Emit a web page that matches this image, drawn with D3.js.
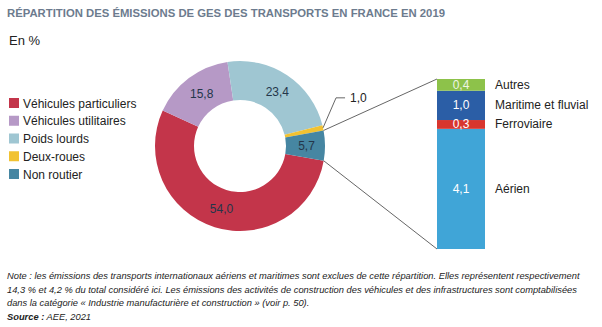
<!DOCTYPE html>
<html>
<head>
<meta charset="utf-8">
<script src="https://cdn.jsdelivr.net/npm/d3@7"></script>
<style>
  body { margin: 0; background: #fff; }
  svg { display: block; font-family: "Liberation Sans", Arial, Helvetica, sans-serif; }
</style>
</head>
<body>
<svg id="chart" width="602" height="327"></svg>
<script>
// Donut data (share of transport GHG, %)
const donutLabels = ['Véhicules particuliers', 'Véhicules utilitaires', 'Poids lourds', 'Deux-roues', 'Non routier'];
const donutValues = [54.0, 15.8, 23.4, 1.0, 5.7];
const donutColors = ['#c3354a', '#b699c6', '#9fc6d2', '#f1c232', '#4686a2'];

// Breakdown of "Non routier", stacked from bottom to top
const barLabels = ['Aérien', 'Ferroviaire', 'Maritime et fluvial', 'Autres'];
const barValues = [4.1, 0.3, 1.0, 0.4];
const barColors = ['#40a5d7', '#d8362e', '#2b5ea6', '#8dc24a'];

const noteLines = [
  'Note : les émissions des transports internationaux aériens et maritimes sont exclues de cette répartition. Elles représentent respectivement',
  '14,3 % et 4,2 % du total considéré ici. Les émissions des activités de construction des véhicules et des infrastructures sont comptabilisées',
  'dans la catégorie « Industrie manufacturière et construction » (voir p. 50).'
];

const svg = d3.select('#chart');
const fmt = (v) => v.toFixed(1).replace('.', ',');

// Title
svg.append('text')
  .attr('x', 7).attr('y', 17)
  .attr('font-size', '10.5px').attr('font-weight', 'bold')
  .attr('fill', '#6c7b8e')
  .attr('textLength', 438).attr('lengthAdjust', 'spacingAndGlyphs')
  .text('RÉPARTITION DES ÉMISSIONS DE GES DES TRANSPORTS EN FRANCE EN 2019');

svg.append('text')
  .attr('x', 9).attr('y', 45)
  .attr('font-size', '13px').attr('fill', '#222')
  .text('En %');

// Legend
const legend = svg.append('g').attr('transform', 'translate(9, 107.5)');
donutLabels.forEach((label, i) => {
  const row = legend.append('g').attr('transform', `translate(0, ${i * 17.75})`);
  row.append('rect')
    .attr('x', 0).attr('y', -9.5)
    .attr('width', 10).attr('height', 10)
    .attr('fill', donutColors[i]);
  row.append('text')
    .attr('x', 14).attr('y', 0)
    .attr('font-size', '12px').attr('fill', '#222')
    .text(label);
});

// Donut
const cx = 240, cy = 146;
const outerR = 85, innerR = 46;
const start = 100 * Math.PI / 180;

const pie = d3.pie().sort(null).value((d) => d)
  .startAngle(start).endAngle(start + 2 * Math.PI);
const arcs = pie(donutValues);

const arc = d3.arc().innerRadius(innerR).outerRadius(outerR);

const donut = svg.append('g').attr('transform', `translate(${cx},${cy})`);

donut.selectAll('.slice')
  .data(arcs)
  .enter()
  .append('path')
  .attr('class', 'slice')
  .attr('d', arc)
  .attr('fill', (d, i) => donutColors[i]);

// Value labels (skip the tiny Deux-roues slice, labelled outside)
donut.selectAll('.value-label')
  .data(arcs.filter((d, i) => i !== 3))
  .enter()
  .append('text')
  .attr('class', 'value-label')
  .attr('transform', (d) => {
    const c = arc.centroid(d);
    return `translate(${c[0] + 1},${c[1] + 4})`;
  })
  .attr('text-anchor', 'middle')
  .attr('font-size', '12px')
  .attr('fill', '#24364a')
  .text((d) => fmt(d.data));

const onRim = (a, r) => [cx + r * Math.sin(a), cy - r * Math.cos(a)];

// Leader for Deux-roues
const dr = arcs[3];
const p0 = onRim((dr.startAngle + dr.endAngle) / 2, outerR);
const p1 = [p0[0] + 13, p0[1] - 30];
const p2 = [p1[0] + 9, p1[1]];
svg.append('polyline')
  .attr('points', [p0, p1, p2].map((p) => p.join(',')).join(' '))
  .attr('fill', 'none').attr('stroke', '#555').attr('stroke-width', 0.9);
svg.append('text')
  .attr('x', p2[0] + 5).attr('y', p2[1] + 4)
  .attr('font-size', '12px').attr('fill', '#222')
  .text(fmt(donutValues[3]));

// Stacked bar for Non routier
const barX = 437, barW = 48;
const total = d3.sum(barValues);
const y = d3.scaleLinear().domain([0, total]).range([249, 79]);

let acc = 0;
const stack = barValues.map((v, i) => {
  const s = { value: v, label: barLabels[i], color: barColors[i], y0: acc, y1: acc + v };
  acc += v;
  return s;
});

const bar = svg.append('g');
bar.selectAll('.seg')
  .data(stack)
  .enter()
  .append('rect')
  .attr('class', 'seg')
  .attr('x', barX)
  .attr('y', (d) => y(d.y1))
  .attr('width', barW)
  .attr('height', (d) => y(d.y0) - y(d.y1))
  .attr('fill', (d) => d.color);

bar.selectAll('.seg-value')
  .data(stack)
  .enter()
  .append('text')
  .attr('class', 'seg-value')
  .attr('x', barX + barW / 2)
  .attr('y', (d) => (y(d.y0) + y(d.y1)) / 2 + 4)
  .attr('text-anchor', 'middle')
  .attr('font-size', '12px')
  .attr('fill', (d, i) => (i === 3 ? '#eef5e4' : '#ffffff'))
  .text((d) => fmt(d.value));

bar.selectAll('.seg-label')
  .data(stack)
  .enter()
  .append('text')
  .attr('class', 'seg-label')
  .attr('x', barX + barW + 10)
  .attr('y', (d) => (y(d.y0) + y(d.y1)) / 2 + 4)
  .attr('font-size', '12px')
  .attr('fill', '#222')
  .text((d) => d.label);

// Connectors from the Non routier slice to the bar
const nr = arcs[4];
const t0 = onRim(nr.startAngle, outerR);
const b0 = onRim(nr.endAngle, outerR);
svg.append('line')
  .attr('x1', t0[0]).attr('y1', t0[1])
  .attr('x2', barX).attr('y2', y(total))
  .attr('stroke', '#555').attr('stroke-width', 0.9);
svg.append('line')
  .attr('x1', b0[0]).attr('y1', b0[1])
  .attr('x2', barX).attr('y2', y(0))
  .attr('stroke', '#555').attr('stroke-width', 0.9);

// Note + source
const note = svg.append('g')
  .attr('font-style', 'italic').attr('fill', '#222');

const probe = note.append('text').attr('font-size', '10px').text(noteLines[0]);
const noteSize = 10 * 573 / probe.node().getComputedTextLength();
probe.remove();

noteLines.forEach((line, i) => {
  note.append('text')
    .attr('x', 7).attr('y', 279 + i * 13.7)
    .attr('font-size', `${noteSize}px`)
    .text(line);
});

const src = note.append('text')
  .attr('x', 7).attr('y', 320)
  .attr('font-size', `${noteSize}px`);
src.append('tspan').attr('font-weight', 'bold').text('Source :');
src.append('tspan').text(' AEE, 2021');
</script>
</body>
</html>
